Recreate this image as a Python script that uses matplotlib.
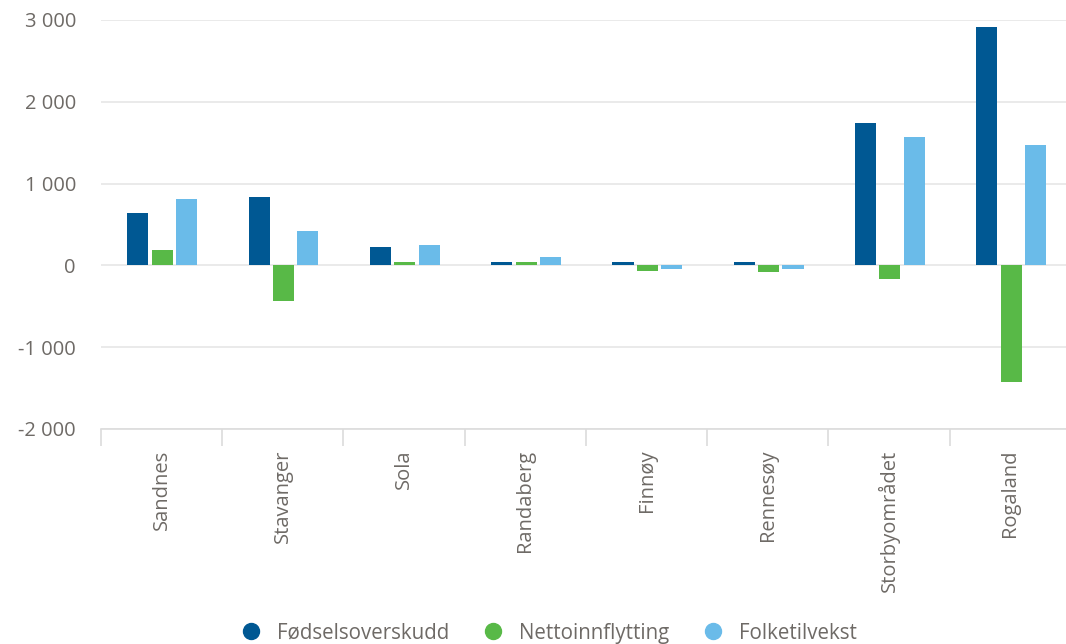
import numpy as np
import matplotlib
matplotlib.use("Agg")
import matplotlib.pyplot as plt
from matplotlib.ticker import FuncFormatter, FixedLocator
from matplotlib.lines import Line2D

plt.rcParams["font.family"] = ["Open Sans", "DejaVu Sans"]

kommuner = ["Sandnes", "Stavanger", "Sola", "Randaberg", "Finnøy",
            "Rennesøy", "Storbyområdet", "Rogaland"]
fodselsoverskudd = [634, 841, 220, 37, 37, 37, 1744, 2915]
nettoinnflytting = [183, -439, 37, 37, -73, -85, -171, -1427]
folketilvekst = [817, 415, 244, 98, -49, -49, 1573, 1476]

series_names = ["Fødselsoverskudd", "Nettoinnflytting", "Folketilvekst"]
colors = ["#005893", "#58b947", "#6abbe9"]
text_col = "#6e6a66"

fig = plt.figure(figsize=(10.66, 6.44), dpi=100)
ax = fig.add_axes([0.0947, 0.334, 0.910, 0.635])

x = np.arange(len(kommuner))
w = 0.174
offsets = [-0.195, 0.006, 0.207]
for vals, off, c in zip([fodselsoverskudd, nettoinnflytting, folketilvekst],
                        offsets, colors):
    ax.bar(x + off, vals, width=w, color=c, zorder=3)

ax.set_xlim(-0.5, len(kommuner) - 0.5)
ax.set_ylim(-2000, 3000)
ax.set_yticks(np.arange(-2000, 3001, 1000))
ax.yaxis.set_major_formatter(FuncFormatter(
    lambda v, p: f"{int(v):,}".replace(",", " ")))
ax.grid(axis="y", color="#e6e6e6", lw=1.2, zorder=0)

ax.set_xticks(x)
ax.set_xticklabels(kommuner, rotation=90, color=text_col, fontsize=14.5)
ax.xaxis.set_minor_locator(FixedLocator(np.arange(-0.5, len(kommuner), 1.0)))
ax.tick_params(axis="x", which="major", length=0, pad=15)
ax.tick_params(axis="x", which="minor", length=12.5, color="#dcdcdc", width=1.2)
ax.tick_params(axis="y", length=0, labelsize=14.5, labelcolor=text_col, pad=18)

for s in ["top", "right", "left"]:
    ax.spines[s].set_visible(False)
ax.spines["bottom"].set_color("#dcdcdc")
ax.spines["bottom"].set_linewidth(1.2)

handles = [Line2D([], [], marker="o", ls="", markersize=11.5, color=c)
           for c in colors]
fig.legend(handles, series_names, loc="lower center", ncol=3,
           bbox_to_anchor=(0.51, -0.028), frameon=False, fontsize=14.8,
           labelcolor=text_col, handletextpad=0.25, columnspacing=1.15)

fig.savefig("out.png", dpi=100)
